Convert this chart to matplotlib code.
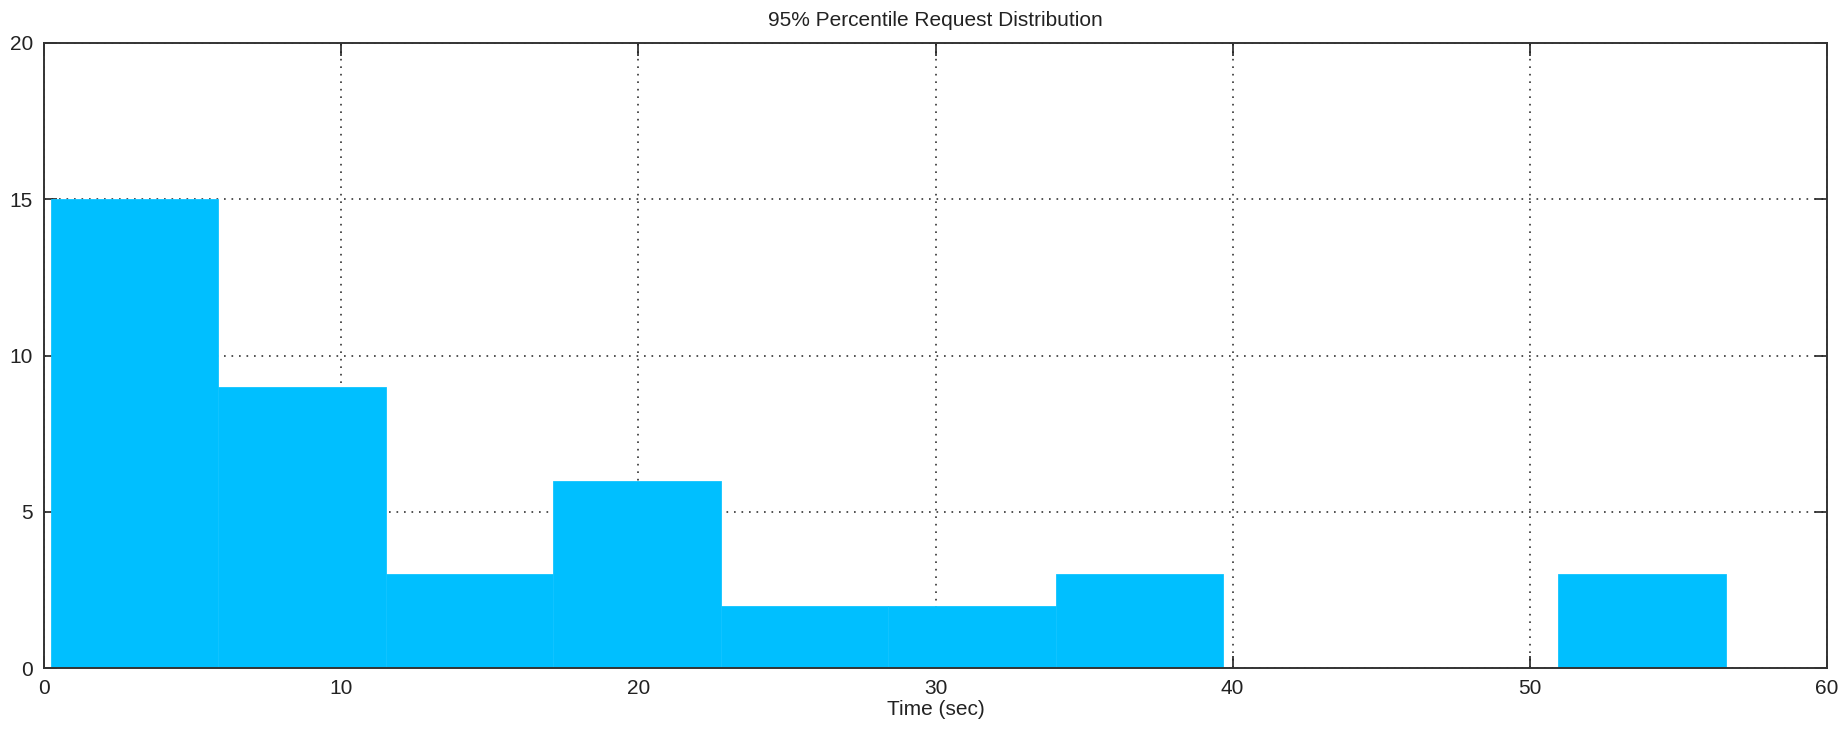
import matplotlib
matplotlib.use("Agg")
import matplotlib.pyplot as plt
import numpy as np

# histogram of 95th percentile request times
bin_start = 0.22
bin_width = 5.637
counts = [15, 9, 3, 6, 2, 2, 3, 0, 0, 3]

title = "95% Percentile Request Distribution"
xlabel = "Time (sec)"
xticks = [0, 10, 20, 30, 40, 50, 60]
yticks = [0, 5, 10, 15, 20]

plt.rcParams['font.family'] = ['Liberation Sans', 'DejaVu Sans']

fig = plt.figure(figsize=(18.49, 7.30), dpi=100)
ax = fig.add_axes([0.0238, 0.0849, 0.9643, 0.8562])

lefts = bin_start + bin_width * np.arange(len(counts))
ax.bar(lefts, counts, width=bin_width, align='edge', color='#00BFFF',
       edgecolor='#10C4FF', linewidth=0.6, zorder=2)

ax.set_xlim(0, 60)
ax.set_ylim(0, 20)
ax.set_xticks(xticks)
ax.set_yticks(yticks)
ax.grid(True, linestyle=(0, (1, 3.5)), color='#333333', linewidth=1.2, zorder=1)
ax.set_axisbelow(True)
ax.tick_params(direction='in', length=9, width=1.2, top=True, right=True,
               labelsize=15, colors='#222222', pad=8)
for s in ax.spines.values():
    s.set_linewidth(1.4)
    s.set_color('#333333')
    s.set_zorder(3)

ax.set_title(title, fontsize=15, pad=12, color='#222222')
ax.set_xlabel(xlabel, fontsize=15, labelpad=1, color='#222222')

fig.savefig("out.png", dpi=100)
